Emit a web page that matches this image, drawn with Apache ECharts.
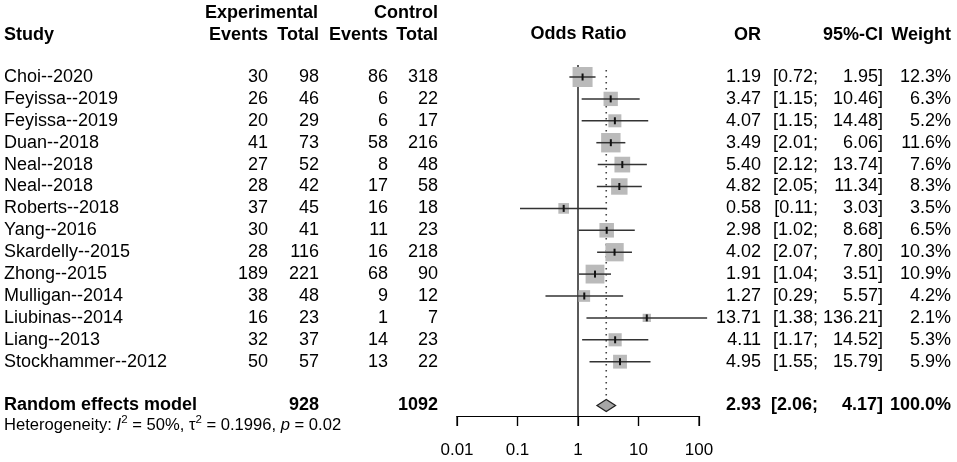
<!DOCTYPE html>
<html><head><meta charset="utf-8">
<script src="https://cdn.jsdelivr.net/npm/echarts@6/dist/echarts.min.js"></script>
<style>html,body{margin:0;padding:0;background:#fff}#c{width:957px;height:462px}</style>
</head><body><div id="c"></div>
<script>
const studies = ['Choi--2020','Feyissa--2019','Feyissa--2019','Duan--2018','Neal--2018','Neal--2018','Roberts--2018','Yang--2016','Skardelly--2015','Zhong--2015','Mulligan--2014','Liubinas--2014','Liang--2013','Stockhammer--2012'];
const expEvents = [30,26,20,41,27,28,37,30,28,189,38,16,32,50];
const expTotal = [98,46,29,73,52,42,45,41,116,221,48,23,37,57];
const ctrlEvents = [86,6,6,58,8,17,16,11,16,68,9,1,14,13];
const ctrlTotal = [318,22,17,216,48,58,18,23,218,90,12,7,23,22];
const oddsRatio = [1.19,3.47,4.07,3.49,5.40,4.82,0.58,2.98,4.02,1.91,1.27,13.71,4.11,4.95];
const ciLower = [0.72,1.15,1.15,2.01,2.12,2.05,0.11,1.02,2.07,1.04,0.29,1.38,1.17,1.55];
const ciUpper = [1.95,10.46,14.48,6.06,13.74,11.34,3.03,8.68,7.80,3.51,5.57,136.21,14.52,15.79];
const weights = [12.3,6.3,5.2,11.6,7.6,8.3,3.5,6.5,10.3,10.9,4.2,2.1,5.3,5.9];
const pooled = {or: 2.93, lower: 2.06, upper: 4.17, weight: 100.0, expTotal: 928, ctrlTotal: 1092};
const tickLabels = ['0.01','0.1','1','10','100'];

const FONT = '"Liberation Sans", Arial, Helvetica, sans-serif';
const FS = 18;
const chart = echarts.init(document.getElementById('c'));

const pooledRow = studies.length + 2;
const yMax = 16.48;

function txt(x, y, s, align, bold, size) {
  return {type: 'text', style: {text: s, x: x, y: y, align: align, verticalAlign: 'middle',
    font: (bold ? 'bold ' : '') + (size || FS) + 'px ' + FONT, fill: '#000'}};
}
const COL = {study: 4, ee: 268, et: 319, ce: 388, ct: 438, or: 761, lo: 818, up: 883, w: 951};

const tableData = studies.map((s, i) => [1, i + 1, i]);
tableData.push([1, pooledRow, -1]);

const forestData = studies.map((s, i) => [oddsRatio[i], ciLower[i], ciUpper[i], i + 1, weights[i]]);
const maxW = Math.max.apply(null, weights);
const tickData = tickLabels.map(t => [parseFloat(t), yMax]);

chart.setOption({
  animation: false,
  grid: {left: 457, right: 258, top: 55.1, bottom: 46, containLabel: false},
  xAxis: {
    type: 'log', logBase: 10, min: 0.01, max: 100,
    axisLine: {show: true, onZero: false, lineStyle: {color: '#000', width: 1.2}},
    axisTick: {show: true, inside: false, length: 10, lineStyle: {color: '#000', width: 1.2}},
    axisLabel: {show: true, margin: 26, color: '#000', fontSize: 17, fontFamily: FONT,
      formatter: v => tickLabels[Math.round(Math.log10(v)) + 2]},
    splitLine: {show: false}, minorTick: {show: false}
  },
  yAxis: {type: 'value', inverse: true, min: 0, max: yMax, show: false},
  graphic: [
    txt(318, 13, 'Experimental', 'right', true),
    txt(438, 13, 'Control', 'right', true),
    txt(COL.study, 35, 'Study', 'left', true),
    txt(COL.ee, 35, 'Events', 'right', true),
    txt(COL.et, 35, 'Total', 'right', true),
    txt(COL.ce, 35, 'Events', 'right', true),
    txt(COL.ct, 35, 'Total', 'right', true),
    txt(578.5, 34, 'Odds Ratio', 'center', true),
    txt(COL.or, 35, 'OR', 'right', true),
    txt(COL.up, 35, '95%-CI', 'right', true),
    txt(COL.w, 35, 'Weight', 'right', true),
    {type: 'text', style: {
      x: 4, y: 425, verticalAlign: 'middle', align: 'left',
      text: 'Heterogeneity: {i|I}{s|2} = 50%, τ{s|2} = 0.1996, {i|p} = 0.02',
      font: '16.6px ' + FONT, fill: '#000',
      rich: {
        i: {fontStyle: 'italic', fontSize: 16.6, fontFamily: FONT, fill: '#000'},
        s: {fontSize: 11.5, fontFamily: FONT, verticalAlign: 'top', padding: [0, 0, 10, 0], fill: '#000'}
      }
    }}
  ],
  series: [
    {
      type: 'custom', clip: false, silent: true,
      data: [[1, 0.45, yMax], [pooled.or, 0.68, 15.7]],
      renderItem: (params, api) => {
        const a = api.coord([api.value(0), api.value(1)]);
        const b = api.coord([api.value(0), api.value(2)]);
        const dotted = params.dataIndex === 1;
        return {type: 'line', shape: {x1: a[0], y1: a[1], x2: b[0], y2: b[1]},
          style: {stroke: dotted ? '#444' : '#000', lineWidth: dotted ? 1.6 : 1.3, lineDash: dotted ? [1.6, 4.4] : null}};
      }
    },
    {
      type: 'custom', clip: false, silent: true,
      data: tickData,
      renderItem: (params, api) => {
        const a = api.coord([api.value(0), api.value(1)]);
        return {type: 'line', shape: {x1: a[0], y1: a[1], x2: a[0], y2: a[1] + 10},
          style: {stroke: '#000', lineWidth: 1.2}};
      }
    },
    {
      type: 'custom', clip: false, silent: true,
      data: forestData,
      renderItem: (params, api) => {
        const p = api.coord([api.value(0), api.value(3)]);
        const l = api.coord([api.value(1), api.value(3)]);
        const u = api.coord([api.value(2), api.value(3)]);
        const s = 20 * Math.sqrt(api.value(4) / maxW);
        return {type: 'group', children: [
          {type: 'rect', shape: {x: p[0] - s / 2, y: p[1] - s / 2, width: s, height: s}, style: {fill: '#bababa'}},
          {type: 'line', shape: {x1: l[0], y1: p[1], x2: u[0], y2: p[1]}, style: {stroke: '#333', lineWidth: 1.5}},
          {type: 'line', shape: {x1: p[0], y1: p[1] - 3.5, x2: p[0], y2: p[1] + 3.5}, style: {stroke: '#111', lineWidth: 2}}
        ]};
      }
    },
    {
      type: 'custom', clip: false, silent: true,
      data: [[pooled.or, pooled.lower, pooled.upper, pooledRow]],
      renderItem: (params, api) => {
        const p = api.coord([api.value(0), api.value(3)]);
        const l = api.coord([api.value(1), api.value(3)]);
        const u = api.coord([api.value(2), api.value(3)]);
        const h = 6;
        return {type: 'polygon', shape: {points: [[l[0], p[1]], [p[0], p[1] - h], [u[0], p[1]], [p[0], p[1] + h]]},
          style: {fill: '#a6a6a6', stroke: '#222', lineWidth: 1.3}};
      }
    },
    {
      type: 'custom', clip: false, silent: true,
      data: tableData,
      renderItem: (params, api) => {
        const y = api.coord([api.value(0), api.value(1)])[1];
        const i = api.value(2);
        if (i < 0) {
          return {type: 'group', children: [
            txt(COL.study, y, 'Random effects model', 'left', true),
            txt(COL.et, y, String(pooled.expTotal), 'right', true),
            txt(COL.ct, y, String(pooled.ctrlTotal), 'right', true),
            txt(COL.or, y, pooled.or.toFixed(2), 'right', true),
            txt(COL.lo, y, '[' + pooled.lower.toFixed(2) + ';', 'right', true),
            txt(COL.up, y, pooled.upper.toFixed(2) + ']', 'right', true),
            txt(COL.w, y, pooled.weight.toFixed(1) + '%', 'right', true)
          ]};
        }
        return {type: 'group', children: [
          txt(COL.study, y, studies[i], 'left', false),
          txt(COL.ee, y, String(expEvents[i]), 'right', false),
          txt(COL.et, y, String(expTotal[i]), 'right', false),
          txt(COL.ce, y, String(ctrlEvents[i]), 'right', false),
          txt(COL.ct, y, String(ctrlTotal[i]), 'right', false),
          txt(COL.or, y, oddsRatio[i].toFixed(2), 'right', false),
          txt(COL.lo, y, '[' + ciLower[i].toFixed(2) + ';', 'right', false),
          txt(COL.up, y, ciUpper[i].toFixed(2) + ']', 'right', false),
          txt(COL.w, y, weights[i].toFixed(1) + '%', 'right', false)
        ]};
      }
    }
  ]
});
</script></body></html>
